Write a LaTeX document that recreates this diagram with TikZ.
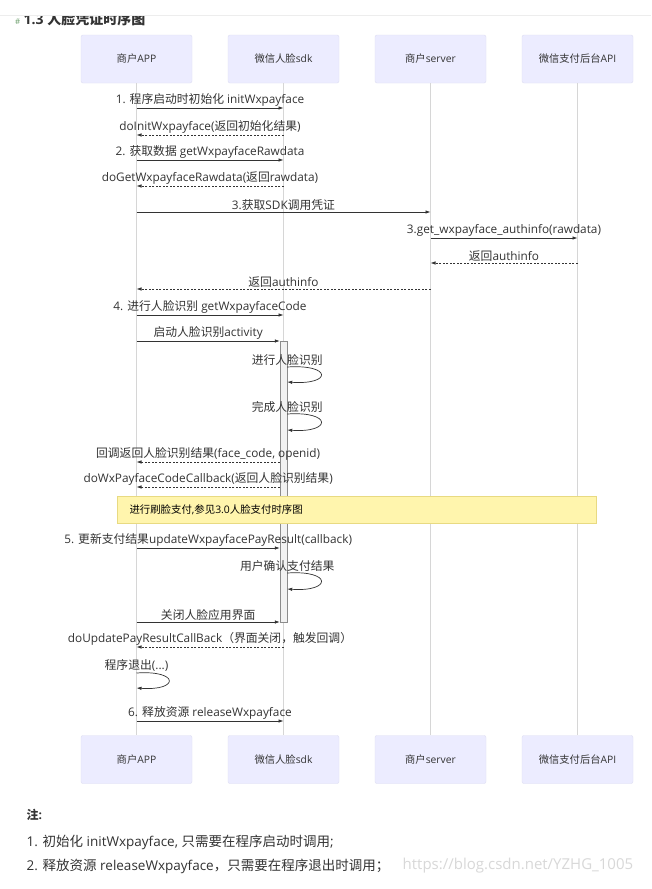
\documentclass[tikz,border=0pt]{standalone}
\usepackage{fontspec}
\setmainfont{Open Sans}
\newfontfamily\zhfont{Noto Sans CJK SC}
\usetikzlibrary{arrows.meta}
% switch to the CJK family for Chinese characters
\XeTeXinterchartokenstate=1
\newXeTeXintercharclass\zhclass
\newcount\zhcnt
\zhcnt="4E00
\loop\XeTeXcharclass\zhcnt=\zhclass\advance\zhcnt by 1 \ifnum\zhcnt<"A000 \repeat
\zhcnt="3000
\loop\XeTeXcharclass\zhcnt=\zhclass\advance\zhcnt by 1 \ifnum\zhcnt<"3040 \repeat
\zhcnt="FF00
\loop\XeTeXcharclass\zhcnt=\zhclass\advance\zhcnt by 1 \ifnum\zhcnt<"FFF0 \repeat
\XeTeXinterchartoks 0 \zhclass = {\zhfont}
\XeTeXinterchartoks 4095 \zhclass = {\zhfont}
\XeTeXinterchartoks \zhclass 0 = {\rmfamily}
\XeTeXinterchartoks \zhclass 4095 = {\rmfamily}
\definecolor{actorfill}{RGB}{236,236,255}
\definecolor{actorline}{RGB}{222,222,242}
\definecolor{lifegray}{RGB}{214,214,214}
\definecolor{msggray}{RGB}{51,51,51}
\definecolor{notefill}{RGB}{255,245,173}
\definecolor{noteline}{RGB}{232,218,130}
\definecolor{hashgreen}{RGB}{110,160,110}
\definecolor{markgray}{RGB}{216,216,216}

\begin{document}
\begin{tikzpicture}[x=1pt, y=-1pt]

      \tikzset{actor/.style={draw=actorline, fill=actorfill, rounded corners=2pt, minimum width=111pt, minimum height=48pt, inner sep=0pt, text=msggray, font=\fontsize{10.3}{12}\selectfont},
        lifeline/.style={draw=lifegray, line width=0.8pt},
        msg/.style={draw=msggray, line width=0.7pt, -{Latex[length=5pt,width=3.5pt]}},
        reply/.style={msg, dash pattern=on 2pt off 1.5pt},
        lbl/.style={above, inner sep=1pt, text=msggray, font=\fontsize{11.8}{14}\selectfont},
        actbar/.style={draw=black!45, fill=black!5, minimum width=7pt, minimum height=281pt, inner sep=0pt},
        note/.style={draw=noteline, fill=notefill, minimum width=479pt, minimum height=27pt, inner xsep=12pt, text width=455pt, align=left, font=\fontsize{10.4}{12}\selectfont}}

      \fill[white] (0,0) rectangle (650,889);
% Title
      	\node[anchor=west, inner sep=0pt, text=msggray, font=\bfseries\fontsize{14}{16}\selectfont] (title) at (23,19) {1.3 人脸凭证时序图};
      	\node[anchor=east, inner sep=0pt, text=hashgreen, font=\fontsize{8}{9}\selectfont] (hash) at (20,22) {\#};
      	\fill[white] (0,0) rectangle (650,15);
      	\draw[black!7, line width=1pt] (0,15.5) -- (650,15.5);
% Participants
      	\node[actor] (app) at (136,59) {商户APP};
      	\node[actor] (sdk) at (283,59) {微信人脸sdk};
      	\node[actor] (srv) at (430,59) {商户server};
      	\node[actor] (api) at (577,59) {微信支付后台API};
      	\node[actor] (app2) at (136,759.5) {商户APP};
      	\node[actor] (sdk2) at (283,759.5) {微信人脸sdk};
      	\node[actor] (srv2) at (430,759.5) {商户server};
      	\node[actor] (api2) at (577,759.5) {微信支付后台API};
% Lifelines
      	\draw[lifeline] (app) -- (app2);
      	\draw[lifeline] (sdk) -- (sdk2);
      	\draw[lifeline] (srv) -- (srv2);
      	\draw[lifeline] (api) -- (api2);
      	\node[actbar] (act) at (283,481.5) {};
% Rows
      	\coordinate (m1) at (0,108);
      	\coordinate (m2) at (0,135);
      	\coordinate (m3) at (0,160);
      	\coordinate (m4) at (0,186);
      	\coordinate (m5) at (0,212);
      	\coordinate (m6) at (0,238);
      	\coordinate (m7) at (0,263);
      	\coordinate (m8) at (0,289);
      	\coordinate (m9) at (0,315);
      	\coordinate (m10) at (0,341);
      	\coordinate (la1) at (0,367);
      	\coordinate (lb1) at (0,382);
      	\coordinate (la2) at (0,414);
      	\coordinate (lb2) at (0,430);
      	\coordinate (m11) at (0,462);
      	\coordinate (m12) at (0,487);
      	\coordinate (m13) at (0,548);
      	\coordinate (la3) at (0,573);
      	\coordinate (lb3) at (0,589);
      	\coordinate (m14) at (0,622);
      	\coordinate (m15) at (0,647);
      	\coordinate (la4) at (0,673);
      	\coordinate (lb4) at (0,688);
      	\coordinate (m16) at (0,721);
%Messages
		\path (app |- m1) edge[msg] node[lbl] {1. 程序启动时初始化 initWxpayface} (sdk |- m1);
		\path (sdk |- m2) edge[reply] node[lbl] {doInitWxpayface(返回初始化结果)} (app |- m2);
		\path (app |- m3) edge[msg] node[lbl] {2. 获取数据 getWxpayfaceRawdata} (sdk |- m3);
		\path (sdk |- m4) edge[reply] node[lbl] {doGetWxpayfaceRawdata(返回rawdata)} (app |- m4);
		\path (app |- m5) edge[msg] node[lbl] {3.获取SDK调用凭证} (srv |- m5);
		\path (srv |- m6) edge[msg] node[lbl] {3.get\_wxpayface\_authinfo(rawdata)} (api |- m6);
		\path (api |- m7) edge[reply] node[lbl] {返回authinfo} (srv |- m7);
		\path (srv |- m8) edge[reply] node[lbl] {返回authinfo} (app |- m8);
		\path (app |- m9) edge[msg] node[lbl] {4. 进行人脸识别 getWxpayfaceCode} (sdk |- m9);
		\path (app |- m10) edge[msg] node[lbl] {启动人脸识别activity} (act.west |- m10);
		\draw[msg] (act.east |- la1) .. controls +(45,-3) and +(45,3) .. (act.east |- lb1) node[lbl, at start] {进行人脸识别};
		\draw[msg] (act.east |- la2) .. controls +(45,-3) and +(45,3) .. (act.east |- lb2) node[lbl, at start] {完成人脸识别};
		\path (act.west |- m11) edge[reply] node[lbl] {回调返回人脸识别结果(face\_code, openid)} (app |- m11);
		\path (act.west |- m12) edge[reply] node[lbl] {doWxPayfaceCodeCallback(返回人脸识别结果)} (app |- m12);
		\node[note] (pay) at (356.5,509.5) {进行刷脸支付,参见3.0人脸支付时序图};
		\path (app |- m13) edge[msg] node[lbl] {5. 更新支付结果updateWxpayfacePayResult(callback)} (act.west |- m13);
		\draw[msg] (act.east |- la3) .. controls +(45,-3) and +(45,3) .. (act.east |- lb3) node[lbl, at start] {用户确认支付结果};
		\path (app |- m14) edge[msg] node[lbl] {关闭人脸应用界面} (act.west |- m14);
		\path (sdk |- m15) edge[reply] node[lbl] {doUpdatePayResultCallBack（界面关闭，触发回调）} (app |- m15);
		\draw[msg] (app |- la4) .. controls +(43,-3) and +(43,3) .. (app |- lb4) node[lbl, at start] {程序退出(...)};
		\path (app |- m16) edge[msg] node[lbl] {6. 释放资源 releaseWxpayface} (sdk |- m16);
% Notes
		\node[anchor=west, inner sep=0pt, text=msggray, font=\bfseries\fontsize{12}{14}\selectfont] (zhu) at (26,815) {注:};
		\node[anchor=west, inner sep=0pt, text=msggray, font=\fontsize{13.5}{16}\selectfont] (item1) at (26,842) {1. 初始化 initWxpayface, 只需要在程序启动时调用;};
		\node[anchor=west, inner sep=0pt, text=msggray, font=\fontsize{13.5}{16}\selectfont] (item2) at (26,866) {2. 释放资源 releaseWxpayface，只需要在程序退出时调用；};
		\node[anchor=west, inner sep=0pt, text=markgray, font=\fontsize{15}{17}\selectfont] (mark) at (402,866) {https://blog.csdn.net/YZHG\_1005};

	\end{tikzpicture}
\end{document}
